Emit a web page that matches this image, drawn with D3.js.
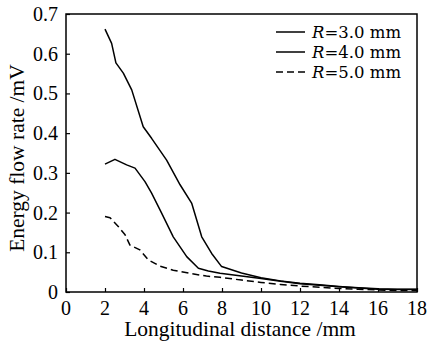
<!DOCTYPE html>
<html>
<head>
<meta charset="utf-8">
<script src="https://cdn.jsdelivr.net/npm/d3@7"></script>
<style>
  body { margin: 0; background: #fff; }
  svg text { font-family: "Liberation Serif", "DejaVu Serif", serif; fill: #000; }
  svg text.leg { font-family: "DejaVu Serif", "Liberation Serif", serif; }
</style>
</head>
<body>
<div id="chart"></div>
<script>
// data
var xTicks = [0, 2, 4, 6, 8, 10, 12, 14, 16, 18];
var yTicks = [0, 0.1, 0.2, 0.3, 0.4, 0.5, 0.6, 0.7];

var x30 = [2, 2.34, 2.56, 2.94, 3.37, 3.96, 4.39, 5.16, 5.85, 6.45, 6.96, 7.47, 7.98, 9, 10, 11, 12, 13, 14, 15, 16, 17, 18];
var y30 = [0.662, 0.626, 0.577, 0.551, 0.509, 0.416, 0.387, 0.332, 0.27, 0.223, 0.139, 0.097, 0.064, 0.048, 0.036, 0.028, 0.022, 0.018, 0.014, 0.011, 0.008, 0.007, 0.007];

var x40 = [2, 2.51, 3.11, 3.54, 4.05, 4.39, 4.91, 5.5, 6.19, 6.79, 7.3, 7.9, 9, 10, 11, 12, 13, 14, 15, 16, 17, 18];
var y40 = [0.322, 0.334, 0.32, 0.312, 0.278, 0.249, 0.198, 0.139, 0.089, 0.06, 0.053, 0.047, 0.04, 0.034, 0.027, 0.021, 0.017, 0.013, 0.01, 0.007, 0.006, 0.006];

var x50 = [2, 2.26, 2.68, 3.03, 3.28, 3.79, 4.22, 4.82, 5.5, 6.36, 7.2, 7.9, 9, 10, 11, 12, 13, 14, 15, 16, 17, 18];
var y50 = [0.19, 0.187, 0.165, 0.144, 0.118, 0.106, 0.081, 0.065, 0.055, 0.047, 0.04, 0.037, 0.03, 0.024, 0.019, 0.015, 0.012, 0.009, 0.007, 0.005, 0.004, 0.004];

var radii = ['3.0', '4.0', '5.0'];
var dashes = [null, null, '7,4'];

var W = 428, H = 344;
var margin = {left: 66, right: 11, top: 14, bottom: 52};

var svg = d3.select('#chart').append('svg')
    .attr('width', W).attr('height', H);

var x = d3.scaleLinear().domain([0, 18]).range([margin.left, W - margin.right]);
var y = d3.scaleLinear().domain([0, 0.7]).range([H - margin.bottom, margin.top]);

var series = [
    {xs: x30, ys: y30},
    {xs: x40, ys: y40},
    {xs: x50, ys: y50}
];

var line = d3.line()
    .x(function(d) { return x(d[0]); })
    .y(function(d) { return y(d[1]); });

series.forEach(function(s, i) {
    var pts = s.xs.map(function(v, j) { return [v, s.ys[j]]; });
    svg.append('path').datum(pts)
        .attr('d', line)
        .attr('fill', 'none')
        .attr('stroke', '#000')
        .attr('stroke-width', 1.5)
        .attr('stroke-linejoin', 'round')
        .attr('stroke-dasharray', dashes[i]);
});

// axes, ticks pointing inward
svg.append('g')
    .attr('transform', 'translate(0,' + y(0) + ')')
    .call(d3.axisTop(x).tickValues(xTicks).tickSize(4).tickFormat(''));
svg.append('g')
    .attr('transform', 'translate(' + x(0) + ',0)')
    .call(d3.axisRight(y).tickValues(yTicks).tickSize(4).tickFormat(''));
svg.selectAll('.domain').remove();
svg.selectAll('.tick line').attr('stroke', '#000').attr('stroke-width', 1.2);

// frame
svg.append('rect')
    .attr('x', x(0)).attr('y', y(0.7))
    .attr('width', x(18) - x(0)).attr('height', y(0) - y(0.7))
    .attr('fill', 'none').attr('stroke', '#000').attr('stroke-width', 1.5);

// tick labels
svg.selectAll('.xlab').data(xTicks).enter().append('text')
    .attr('x', function(d) { return x(d); })
    .attr('y', 315)
    .attr('text-anchor', 'middle')
    .style('font-size', '20px')
    .text(function(d) { return d; });

svg.selectAll('.ylab').data(yTicks).enter().append('text')
    .attr('x', x(0) - 8)
    .attr('y', function(d) { return y(d) + 7; })
    .attr('text-anchor', 'end')
    .style('font-size', '20px')
    .text(function(d) { return d === 0 ? '0' : d3.format('.1f')(d); });

// axis titles
svg.append('text')
    .attr('x', 240)
    .attr('y', 336)
    .attr('text-anchor', 'middle')
    .style('font-size', '21.5px')
    .text('Longitudinal distance /mm');

svg.append('text')
    .attr('transform', 'translate(24,' + 158 + ') rotate(-90)')
    .attr('text-anchor', 'middle')
    .style('font-size', '21.5px')
    .text('Energy flow rate /mV');

// legend
var legend = svg.append('g');
radii.forEach(function(r, i) {
    var ly = 32 + i * 20;
    legend.append('line')
        .attr('x1', 276).attr('x2', 305)
        .attr('y1', ly).attr('y2', ly)
        .attr('stroke', '#000').attr('stroke-width', 1.5)
        .attr('stroke-dasharray', dashes[i]);
    var t = legend.append('text')
        .attr('class', 'leg')
        .attr('x', 312).attr('y', ly + 6)
        .style('font-size', '16.5px');
    t.append('tspan').style('font-style', 'italic').text('R');
    t.append('tspan').text('=' + r + ' mm');
});
</script>
</body>
</html>
